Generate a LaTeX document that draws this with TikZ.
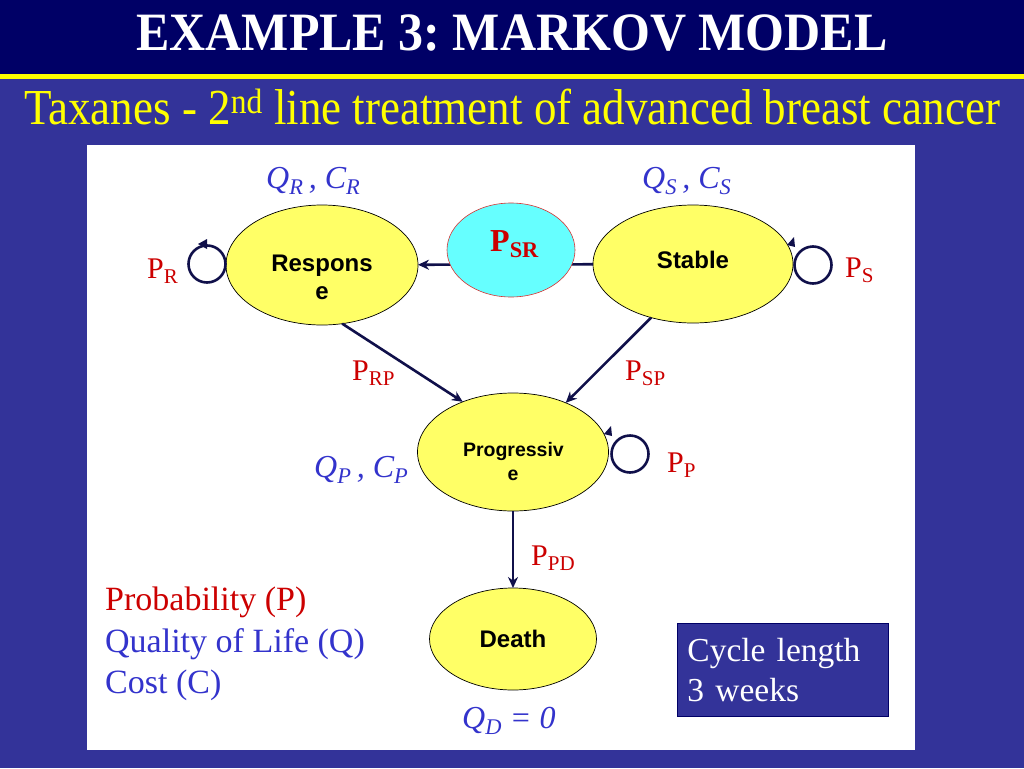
\documentclass[tikz,border=0pt]{standalone}
\usepackage{fontspec}
\setmainfont{Liberation Serif}
\setsansfont{Liberation Sans}
\usetikzlibrary{shapes.geometric,arrows.meta,calc}
\definecolor{navy}{HTML}{000066}
\definecolor{bgblue}{HTML}{333399}
\definecolor{ttlyel}{HTML}{FFFF00}
\definecolor{stfill}{HTML}{FFFF66}
\definecolor{psrfill}{HTML}{66FFFF}
\definecolor{pred}{HTML}{CC0000}
\definecolor{qblue}{HTML}{3333CC}
\definecolor{arrc}{HTML}{10104A}
\newcommand{\myfs}[2]{\fontsize{#1}{#2}\selectfont}
\newcommand{\lowtwo}[4]{\parbox{#1}{\centering\vspace*{#2}#3\\#4}}
\frenchspacing
\tikzset{
  state/.style={ellipse, draw=black, line width=0.7pt, fill=stfill, inner sep=0pt, outer sep=0pt},
  loopc/.style={circle, draw=arrc, line width=2.6pt, minimum size=37pt, inner sep=0pt},
  arr/.style={draw=arrc, line width=2.6pt, -{Stealth[length=11pt,width=10pt]}},
  plab/.style={text=pred, font=\myfs{30}{30}, anchor=base west, inner sep=0pt},
  qlab/.style={text=qblue, font=\itshape\myfs{32}{32}, anchor=base west, inner sep=0pt},
  leg/.style={font=\myfs{34}{34}, anchor=base west, inner sep=0pt},
}
\begin{document}
\frenchspacing
\begin{tikzpicture}[x=1pt,y=-1pt]
\useasboundingbox (0,0) rectangle (1024,768);
\fill[bgblue] (0,0) rectangle (1024,768);
\fill[navy] (0,0) rectangle (1024,74);
\fill[ttlyel] (0,74) rectangle (1024,79);
\fill[white] (87,145) rectangle (915,750);

\node[text=white, font=\bfseries\myfs{50}{50}, anchor=base, inner sep=0pt] (title) at (512,51) {\scalebox{1}[1.08]{EXAMPLE 3: MARKOV MODEL}};
\node[text=ttlyel, font=\myfs{45}{45}, anchor=base, inner sep=0pt] (subtitle) at (512,124) {\scalebox{1}[1.12]{Taxanes - 2\textsuperscript{nd} line treatment of advanced breast cancer}};

% states
\node[state, minimum width=192pt, minimum height=120pt, font=\sffamily\bfseries\myfs{24}{28}] (response) at (322,265) {\lowtwo{110pt}{24pt}{Respons}{e}};
\node[state, minimum width=200pt, minimum height=118pt, font=\sffamily\bfseries\myfs{24}{28}] (stable) at (693,264) {Stable\rule[-9pt]{0pt}{1pt}};
\node[state, minimum width=191pt, minimum height=118pt, font=\sffamily\bfseries\myfs{19.5}{24}] (prog) at (513,452) {\lowtwo{100pt}{20pt}{Progressiv}{e}};
\node[state, minimum width=167pt, minimum height=102pt, font=\sffamily\bfseries\myfs{24}{28}] (death) at (513,639) {Death};

% transitions
\draw[arr] (stable) -- (response);
\node[ellipse, draw=pred!80, line width=0.6pt, fill=psrfill, minimum width=128pt, minimum height=94pt, inner sep=0pt] (psr) at (511,250) {};
\node[text=pred, font=\bfseries\myfs{32}{32}, anchor=base west, inner sep=0pt] (psrlab) at (490,251) {P\textsubscript{SR}};
\draw[arr] (response.289) -- (prog.135);
\draw[arr] (stable.232) -- (prog.43);
\draw[arr] (prog.south) -- (death.north);

% self loops
\node[loopc] (loopR) at (207,264) {};
\fill[arrc] ($(loopR.center)+(-9,-20)$) -- ($(loopR.center)+(0,-25)$) -- ($(loopR.center)+(0,-15)$) -- cycle;
\node[loopc] (loopS) at (813,265) {};
\fill[arrc] ($(loopS.center)+(-26,-20)$) -- ($(loopS.center)+(-19,-28)$) -- ($(loopS.center)+(-18,-18)$) -- cycle;
\node[loopc] (loopP) at (630,454) {};
\fill[arrc] ($(loopP.center)+(-26,-20)$) -- ($(loopP.center)+(-19,-28)$) -- ($(loopP.center)+(-18,-18)$) -- cycle;

% probability labels
\node[plab] (pr) at (147,278) {P\textsubscript{R}};
\node[plab] (ps) at (845,277) {P\textsubscript{S}};
\node[plab] (prp) at (352,380) {P\textsubscript{RP}};
\node[plab] (psp) at (625,380) {P\textsubscript{SP}};
\node[plab] (pp) at (667,472) {P\textsubscript{P}};
\node[plab] (ppd) at (531,565) {P\textsubscript{PD}};

% quality / cost labels
\node[qlab] (qr) at (266,188) {Q\textsubscript{R}\,, C\textsubscript{R}};
\node[qlab] (qs) at (642,188) {Q\textsubscript{S}\,, C\textsubscript{S}};
\node[qlab] (qp) at (314,477) {Q\textsubscript{P}\,, C\textsubscript{P}};
\node[qlab] (qd) at (462,728) {Q\textsubscript{D} = 0};

% legend
\node[leg, text=pred] (lg1) at (105,610) {Probability (P)};
\node[leg, text=qblue] (lg2) at (105,652) {Quality of Life (Q)};
\node[leg, text=qblue] (lg3) at (105,693) {Cost (C)};

% cycle box
\node[draw=navy, line width=0.8pt, fill=bgblue, text=white, font=\myfs{33.5}{40}, anchor=north west, minimum height=93pt, text width=191pt, inner xsep=10pt, align=left] (cycle) at (677,623) {Cycle length\\3 weeks};
\end{tikzpicture}
\end{document}
